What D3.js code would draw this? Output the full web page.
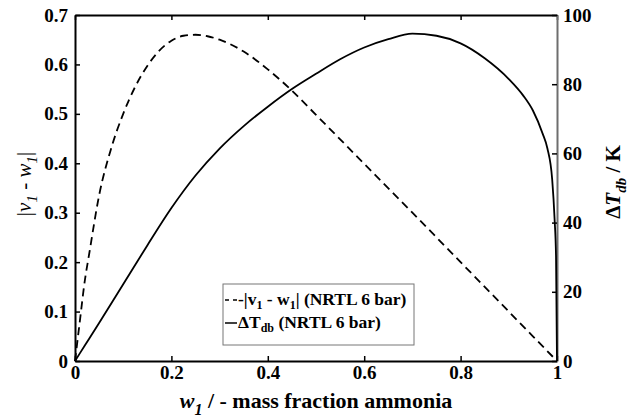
<!DOCTYPE html>
<html>
<head>
<meta charset="utf-8">
<script src="https://cdn.jsdelivr.net/npm/d3@7"></script>
<style>
  body { margin: 0; background: #fff; }
  svg text { font-family: "Liberation Serif", "Times New Roman", Times, "DejaVu Serif", serif; }
</style>
</head>
<body>
<svg id="chart" width="629" height="420"></svg>
<script>
// |v1 - w1| against liquid mass fraction w1 (NRTL, 6 bar)
var wDiff = [0, 0.01, 0.02, 0.03, 0.05, 0.075, 0.1, 0.125, 0.15, 0.175, 0.2, 0.225, 0.25,
             0.275, 0.3, 0.35, 0.4, 0.45, 0.5, 0.6, 0.7, 0.8, 0.9, 0.95, 1.0];
var vwDiff = [0, 0.08, 0.16, 0.22, 0.335, 0.43, 0.50, 0.555, 0.597, 0.628, 0.648, 0.658, 0.66,
              0.657, 0.65, 0.626, 0.59, 0.547, 0.498, 0.399, 0.30, 0.20, 0.10, 0.05, 0.0];

// dew-bubble temperature difference in K (NRTL, 6 bar)
var wTemp = [0, 0.02, 0.05, 0.1, 0.15, 0.2, 0.25, 0.3, 0.35, 0.4, 0.45, 0.5, 0.55, 0.6, 0.65,
             0.7, 0.75, 0.8, 0.85, 0.9, 0.93, 0.95, 0.97, 0.98, 0.99, 0.995, 0.998, 1.0];
var dTemp = [0, 4.4, 11, 22.2, 33.4, 44.2, 53.6, 61.4, 67.9, 73.5, 78.6, 83.0, 87.2, 90.6, 93.0,
             94.6, 94.0, 91.8, 87.5, 81.5, 76.7, 72.4, 65.8, 61.5, 52.5, 41, 30, 0];

var xTicks = [0, 0.2, 0.4, 0.6, 0.8, 1];
var yLeftTicks = [0, 0.1, 0.2, 0.3, 0.4, 0.5, 0.6, 0.7];
var yRightTicks = [0, 20, 40, 60, 80, 100];

var svg = d3.select("#chart"),
    margin = {top: 15, right: 72, bottom: 59, left: 75},
    width = +svg.attr("width") - margin.left - margin.right,
    height = +svg.attr("height") - margin.top - margin.bottom;

var serif = "'Liberation Serif', 'Times New Roman', Times, 'DejaVu Serif', serif";

var g = svg.append("g").attr("transform", "translate(" + margin.left + "," + margin.top + ")");

var x = d3.scaleLinear().domain([0, 1]).range([0, width]);
var yL = d3.scaleLinear().domain([0, 0.7]).range([height, 0]);
var yR = d3.scaleLinear().domain([0, 100]).range([height, 0]);

var fmt = d3.format("~g");

function styleAxis(sel, color) {
  sel.attr("font-family", serif);
  sel.selectAll("text")
      .attr("fill", "#000")
      .style("font-size", "19px")
      .style("font-weight", "bold");
  sel.selectAll("line").attr("stroke", "#000").attr("stroke-width", 1.5);
  sel.select(".domain").attr("stroke", color || "#000").attr("stroke-width", 2);
}

// bottom and top
g.append("g")
    .attr("transform", "translate(0," + height + ")")
    .call(d3.axisBottom(x).tickValues(xTicks).tickFormat(fmt).tickSizeInner(-5).tickSizeOuter(0).tickPadding(5))
    .call(styleAxis);

g.append("g")
    .call(d3.axisTop(x).tickValues(xTicks).tickFormat("").tickSizeInner(-5).tickSizeOuter(0))
    .call(styleAxis);

// left
g.append("g")
    .call(d3.axisLeft(yL).tickValues(yLeftTicks).tickFormat(fmt).tickSizeInner(-5).tickSizeOuter(0).tickPadding(7))
    .call(styleAxis);

// right
g.append("g")
    .attr("transform", "translate(" + width + ",0)")
    .call(d3.axisRight(yR).tickValues(yRightTicks).tickFormat(fmt).tickSizeInner(-5).tickSizeOuter(0).tickPadding(6))
    .call(styleAxis, "#6e6e6e");

// curves
var diffLine = d3.line()
    .x(function(d, i) { return x(wDiff[i]); })
    .y(function(d) { return yL(d); })
    .curve(d3.curveMonotoneX);

var tempLine = d3.line()
    .x(function(d, i) { return x(wTemp[i]); })
    .y(function(d) { return yR(d); })
    .curve(d3.curveMonotoneX);

g.append("path")
    .datum(vwDiff)
    .attr("fill", "none")
    .attr("stroke", "#000")
    .attr("stroke-width", 1.8)
    .attr("stroke-dasharray", "8,5")
    .attr("d", diffLine);

g.append("path")
    .datum(dTemp)
    .attr("fill", "none")
    .attr("stroke", "#000")
    .attr("stroke-width", 1.8)
    .attr("d", tempLine);

// legend
var legend = svg.append("g").attr("transform", "translate(223,284)")
    .attr("font-family", serif);
legend.append("rect")
    .attr("width", 191).attr("height", 61)
    .attr("fill", "#fff").attr("stroke", "#777").attr("stroke-width", 1);

legend.append("line")
    .attr("x1", 2).attr("x2", 14).attr("y1", 16).attr("y2", 16)
    .attr("stroke", "#000").attr("stroke-width", 1.5).attr("stroke-dasharray", "4,4");
legend.append("line")
    .attr("x1", 2).attr("x2", 14).attr("y1", 39).attr("y2", 39)
    .attr("stroke", "#000").attr("stroke-width", 1.5);

var t1 = legend.append("text").attr("x", 15).attr("y", 21)
    .style("font-size", "17.5px").style("font-weight", "bold");
t1.append("tspan").text("-|v");
t1.append("tspan").attr("dy", 4).style("font-size", "12px").text("1");
t1.append("tspan").attr("dy", -4).text(" - w");
t1.append("tspan").attr("dy", 4).style("font-size", "12px").text("1");
t1.append("tspan").attr("dy", -4).text("| (NRTL 6 bar)");

var t2 = legend.append("text").attr("x", 15).attr("y", 44)
    .style("font-size", "17.5px").style("font-weight", "bold");
t2.append("tspan").text("\u0394T");
t2.append("tspan").attr("dy", 4).style("font-size", "12px").text("db");
t2.append("tspan").attr("dy", -4).text(" (NRTL 6 bar)");

// axis titles
var xt = svg.append("text")
    .attr("x", margin.left + width / 2).attr("y", 408)
    .attr("text-anchor", "middle")
    .style("font-size", "22px").style("font-weight", "bold");
xt.append("tspan").style("font-style", "italic").text("w");
xt.append("tspan").attr("dy", 7).style("font-style", "italic").style("font-size", "16px").text("1");
xt.append("tspan").attr("dy", -7).text(" / - mass fraction ammonia");

var yt = svg.append("text")
    .attr("transform", "translate(31," + (margin.top + height / 2 - 4) + ") rotate(-90)")
    .attr("text-anchor", "middle")
    .style("font-size", "21px");
yt.append("tspan").text("|");
yt.append("tspan").style("font-style", "italic").text("v");
yt.append("tspan").attr("dy", 6).style("font-style", "italic").style("font-size", "15px").text("1");
yt.append("tspan").attr("dy", -6).text(" - ");
yt.append("tspan").style("font-style", "italic").text("w");
yt.append("tspan").attr("dy", 6).style("font-style", "italic").style("font-size", "15px").text("1");
yt.append("tspan").attr("dy", -6).text("|");

var rt = svg.append("text")
    .attr("transform", "translate(620,182) rotate(-90)")
    .attr("text-anchor", "middle")
    .style("font-size", "21px").style("font-weight", "bold");
rt.append("tspan").text("\u0394");
rt.append("tspan").style("font-style", "italic").text("T");
rt.append("tspan").attr("dy", 6).style("font-style", "italic").style("font-size", "15px").text("db");
rt.append("tspan").attr("dy", -6).text(" / K");
</script>
</body>
</html>
